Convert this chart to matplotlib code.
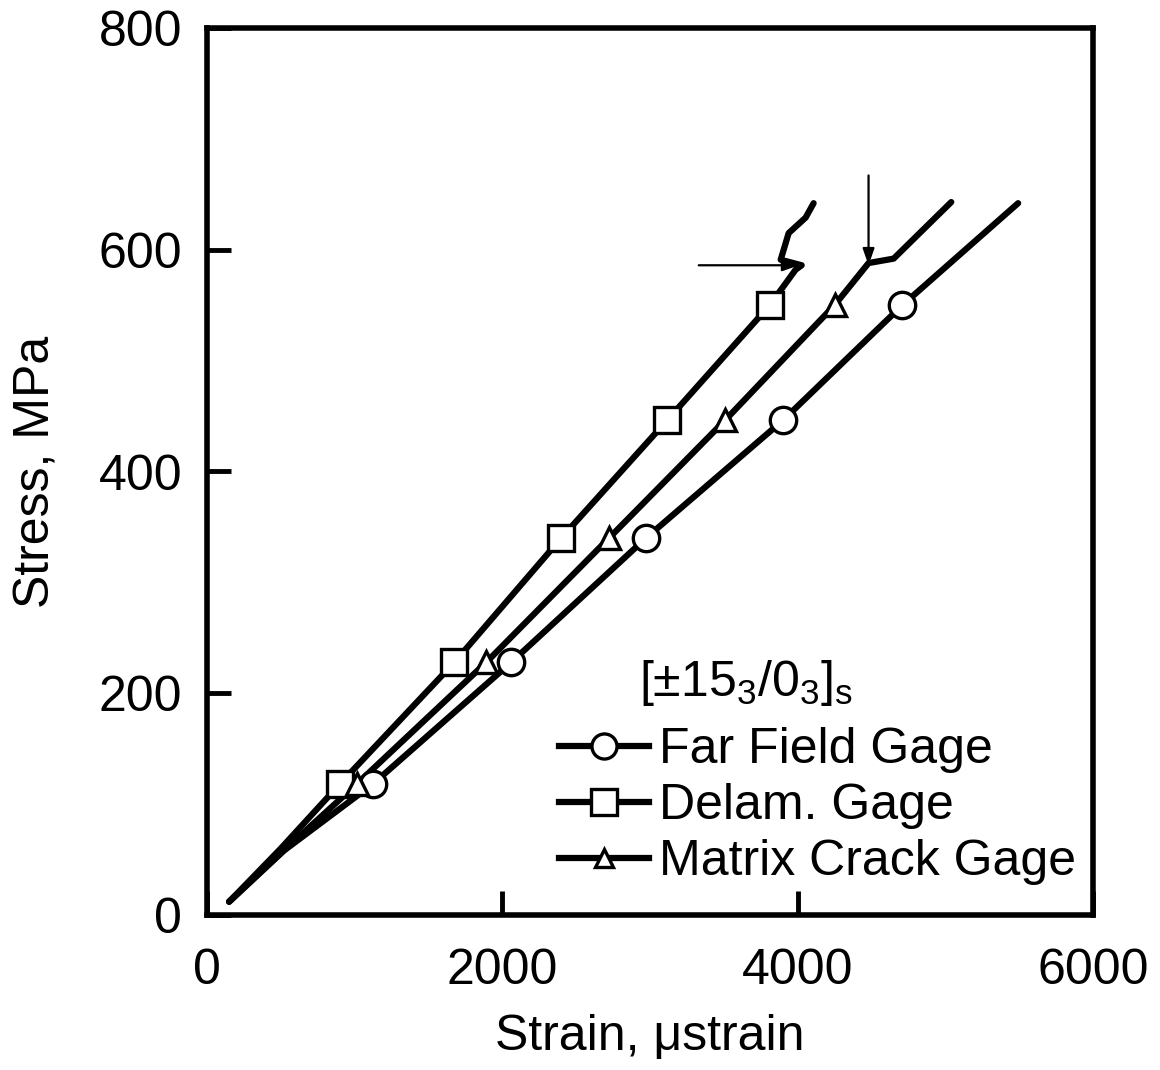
import matplotlib
matplotlib.use("Agg")
import matplotlib.pyplot as plt
from matplotlib.lines import Line2D

plt.rcParams['font.family'] = ['Liberation Sans', 'DejaVu Sans']
plt.rcParams['mathtext.fontset'] = 'custom'
plt.rcParams['mathtext.rm'] = 'Liberation Sans'
plt.rcParams['mathtext.it'] = 'Liberation Sans'
plt.rcParams['mathtext.bf'] = 'Liberation Sans:bold'

# Stress-strain traces (strain in microstrain, stress in MPa)
far_strain = [150, 520, 1122, 2061, 2973, 3899, 4709, 5493]
far_stress = [12, 58, 118, 228, 340, 446, 550, 642]

delam_strain = [150, 500, 899, 1676, 2399, 3115, 3811, 3986, 4027, 3885, 3939, 4054, 4108]
delam_stress = [12, 60, 118, 228, 340, 446, 550, 582, 586, 591, 615, 629, 642]

matrix_strain = [150, 510, 1014, 1892, 2723, 3507, 4250, 4480, 4650, 5040]
matrix_stress = [12, 57, 118, 228, 340, 446, 550, 588, 592, 643]

# Symbol locations along each trace
far_mk_strain = [1122, 2061, 2973, 3899, 4709]
far_mk_stress = [118, 228, 340, 446, 550]
delam_mk_strain = [899, 1676, 2399, 3115, 3811]
delam_mk_stress = [118, 228, 340, 446, 550]
matrix_mk_strain = [1014, 1892, 2723, 3507, 4250]
matrix_mk_stress = [118, 228, 340, 446, 550]

# Event arrows: (tail strain, tail stress, head strain, head stress)
arrow_delam = (3330, 586, 4010, 586)
arrow_matrix = (4480, 667, 4480, 586)

labels = ["Far Field Gage", "Delam. Gage", "Matrix Crack Gage"]
markers = ["o", "s", "^"]

FS = 36

fig = plt.figure(figsize=(11.6, 10.7), dpi=100)
ax = fig.add_axes([207/1160, 1 - 915/1070, (1093-207)/1160, (915-28)/1070])

lw = 4.5
ms = 19
for xs, ys, mx, my, m in [
    (far_strain, far_stress, far_mk_strain, far_mk_stress, "o"),
    (delam_strain, delam_stress, delam_mk_strain, delam_mk_stress, "s"),
    (matrix_strain, matrix_stress, matrix_mk_strain, matrix_mk_stress, "^"),
]:
    ax.plot(xs, ys, color="black", lw=lw, solid_capstyle="round", solid_joinstyle="round", zorder=2)
    ax.plot(mx, my, linestyle="none", marker=m, ms=ms if m != "^" else ms * 0.85,
            mfc="white", mec="black", mew=2.4, zorder=3)

for x0, y0, x1, y1 in (arrow_delam, arrow_matrix):
    ax.annotate("", xy=(x1, y1), xytext=(x0, y0),
                arrowprops=dict(arrowstyle="-|>,head_length=1.0,head_width=0.35",
                                color="black", lw=1.6, shrinkA=0, shrinkB=0))

ax.set_xlim(0, 6000)
ax.set_ylim(0, 800)
ax.set_xticks([0, 2000, 4000, 6000])
ax.set_yticks([0, 200, 400, 600, 800])
ax.tick_params(direction="in", length=17, width=3.5, labelsize=FS)
ax.tick_params(axis="x", pad=24)
ax.tick_params(axis="y", pad=18)
for s in ax.spines.values():
    s.set_linewidth(4)

ax.set_xlabel("Strain, \u03bcstrain", fontsize=FS, labelpad=14)
ax.set_ylabel("Stress, MPa", fontsize=FS, labelpad=28)

handles = [Line2D([], [], color="black", lw=lw, marker=m,
                  ms=(ms * 0.95 if m != "^" else ms * 0.7), mfc="white", mec="black", mew=2.4)
           for m in markers]
leg = ax.legend(handles, labels, loc="lower right", bbox_to_anchor=(1.015, 0.0),
                frameon=False, fontsize=FS, handlelength=1.8, handletextpad=0.2,
                labelspacing=0.2, borderpad=0.1, borderaxespad=0.5)

ax.text(0.488, 0.262, "[\u00b115$_3$/0$_3$]$_\\mathrm{s}$", transform=ax.transAxes,
        fontsize=FS, ha="left", va="center")

fig.savefig("out.png", dpi=100)
